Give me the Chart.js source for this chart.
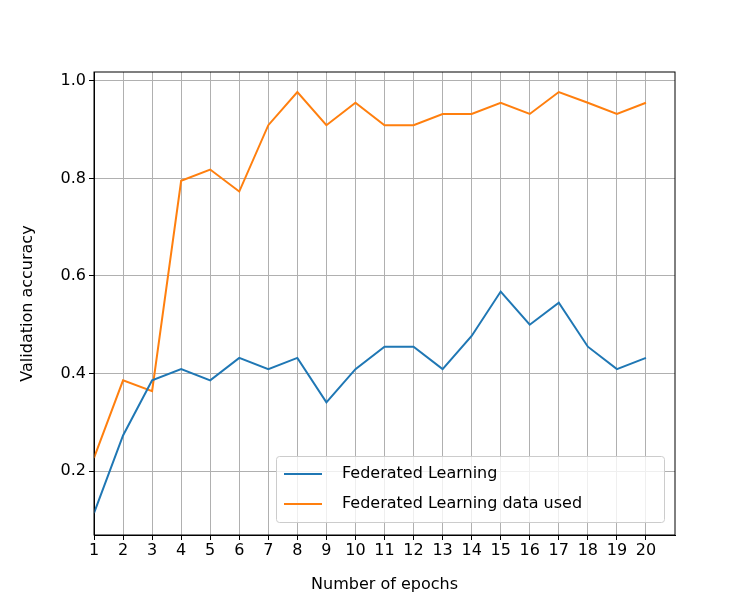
<!DOCTYPE html>
<html lang="en">
<head>
<meta charset="UTF-8">
<title>Validation accuracy</title>
<script src="https://cdn.jsdelivr.net/npm/chart.js"></script>
<style>
  body { margin: 0; background: #fff; }
  #wrap { width: 750px; height: 600px; }
</style>
</head>
<body>
<div id="wrap"><canvas id="myChart" width="750" height="600"></canvas></div>
<script>
const epochs = [1,2,3,4,5,6,7,8,9,10,11,12,13,14,15,16,17,18,19,20];
const federated = [0.114,0.273,0.386,0.409,0.386,0.432,0.409,0.432,0.341,0.409,0.455,0.455,0.409,0.477,0.568,0.5,0.545,0.455,0.409,0.432];
const federatedDataUsed = [0.227,0.386,0.364,0.795,0.818,0.773,0.909,0.977,0.909,0.955,0.909,0.909,0.932,0.932,0.955,0.932,0.977,0.955,0.932,0.955];
const yTicks = [0.2,0.4,0.6,0.8,1.0];

const seriesNames = ['Federated Learning', 'Federated Learning data used'];
const colors = ['#1f77b4', '#ff7f0e'];
const font = 'DejaVu Sans';

// legend drawn inside the plot, bottom right
const innerLegend = {
  id: 'innerLegend',
  afterDraw(chart) {
    const ctx = chart.ctx, a = chart.chartArea;
    const w = 388, h = 66;
    const x = a.right - 11 - w, y = a.bottom - 13 - h;
    ctx.save();
    ctx.fillStyle = 'rgba(255,255,255,0.8)';
    ctx.strokeStyle = '#cccccc';
    ctx.lineWidth = 1;
    ctx.beginPath();
    ctx.roundRect(x + 0.5, y + 0.5, w, h, 3);
    ctx.fill(); ctx.stroke();
    ctx.font = '16px ' + font;
    ctx.textBaseline = 'middle';
    seriesNames.forEach((name, i) => {
      const ly = y + 18 + i * 30;
      ctx.strokeStyle = colors[i];
      ctx.lineWidth = 2;
      ctx.beginPath();
      ctx.moveTo(x + 8, ly); ctx.lineTo(x + 46, ly); ctx.stroke();
      ctx.fillStyle = '#000';
      ctx.fillText(name, x + 66, ly);
    });
    ctx.restore();
  }
};

new Chart(document.getElementById('myChart').getContext('2d'), {
  type: 'line',
  data: {
    datasets: [
      { label: seriesNames[0], data: epochs.map((e, i) => ({x: e, y: federated[i]})),
        borderColor: colors[0], borderWidth: 2, pointRadius: 0, tension: 0 },
      { label: seriesNames[1], data: epochs.map((e, i) => ({x: e, y: federatedDataUsed[i]})),
        borderColor: colors[1], borderWidth: 2, pointRadius: 0, tension: 0 }
    ]
  },
  options: {
    responsive: false,
    animation: false,
    layout: { padding: { top: 72, right: 75, left: 18, bottom: 6 } },
    plugins: { legend: { display: false }, tooltip: { enabled: false } },
    scales: {
      x: {
        type: 'linear', min: 1, max: 21,
        afterBuildTicks: s => { s.ticks = epochs.map(v => ({value: v})); },
        afterFit: s => { s.height = 59; },
        ticks: { color: '#000', font: { family: font, size: 16 }, maxRotation: 0, autoSkip: false, padding: 1 },
        grid: { color: '#b0b0b0', drawTicks: true, tickLength: 5, tickColor: '#000' },
        border: { color: '#000', width: 1 },
        title: { display: true, text: 'Number of epochs', color: '#000', font: { family: font, size: 16 }, padding: 0 }
      },
      y: {
        min: 0.069, max: 1.018,
        afterBuildTicks: s => { s.ticks = yTicks.map(v => ({value: v})); },
        afterFit: s => { s.width = 76; },
        ticks: { color: '#000', font: { family: font, size: 16 }, callback: v => v.toFixed(1) },
        grid: { color: '#b0b0b0', drawTicks: true, tickLength: 5, tickColor: '#000' },
        border: { color: '#000', width: 1 },
        title: { display: true, text: 'Validation accuracy', color: '#000', font: { family: font, size: 16 }, padding: 0 }
      }
    }
  },
  plugins: [innerLegend, {
    id: 'frame',
    afterDraw(chart) {
      const c = chart.ctx, a = chart.chartArea;
      c.save(); c.strokeStyle = '#000'; c.lineWidth = 1;
      c.strokeRect(a.left, a.top, a.right - a.left, a.bottom - a.top);
      c.restore();
    }
  }]
});
</script>
</body>
</html>
